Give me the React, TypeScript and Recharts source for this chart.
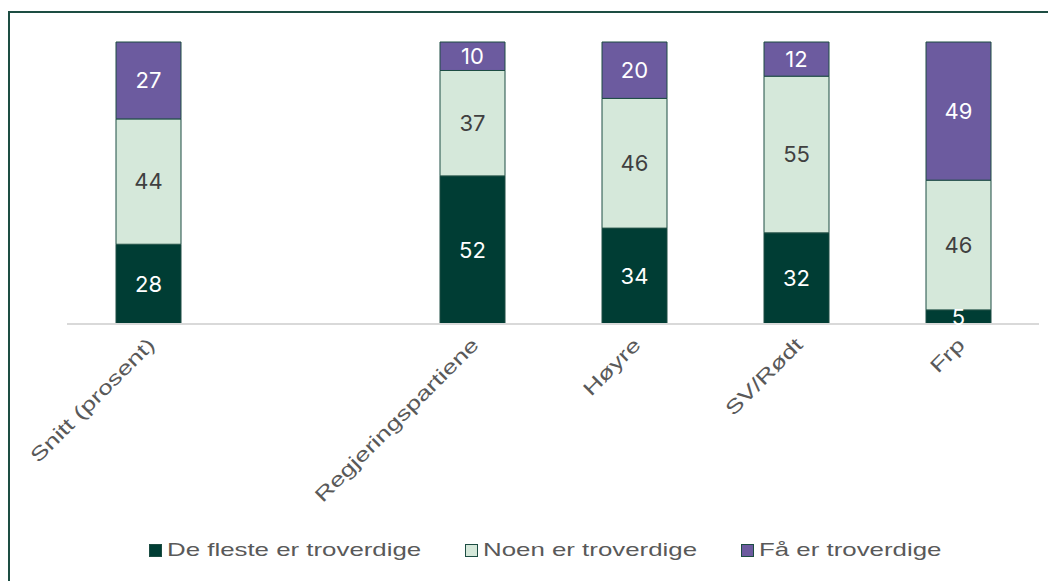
import React from "react";
import { BarChart, Bar, XAxis, YAxis, Legend, LabelList } from "recharts";

// kategorier (en tom plass mellom snitt og partiene)
const kategorier = ["Snitt (prosent)", "", "Regjeringspartiene", "Høyre", "SV/Rødt", "Frp"];
const deFleste = [28, null, 52, 34, 32, 5];
const noen = [44, null, 37, 46, 55, 46];
const faa = [27, null, 10, 20, 12, 49];
const serieNavn = ["De fleste er troverdige", "Noen er troverdige", "Få er troverdige"];

const data = kategorier.map((navn, i) => ({
  navn,
  deFleste: deFleste[i],
  noen: noen[i],
  faa: faa[i],
}));

const MORK = "#003d34";
const LYS = "#d5e8da";
const LILLA = "#6c5b9f";
const KANT = "#1d4d43";
const farger = [MORK, LYS, LILLA];

const FONT = "'Liberation Sans', Arial, sans-serif";
const STREKK = 1.36; // teksten i originalen er strukket i bredden

let ctx: CanvasRenderingContext2D | null = null;
const maalTekst = (tekst: string, px: number) => {
  if (!ctx) ctx = document.createElement("canvas").getContext("2d");
  if (!ctx) return tekst.length * px * 0.5;
  ctx.font = `${px}px 'Liberation Sans'`;
  return ctx.measureText(tekst).width;
};

const Tick = (props: any) => {
  const { x, y, payload } = props;
  return (
    <text
      transform={`translate(${x + 8}, ${y + 14}) rotate(-45) scale(${STREKK}, 1)`}
      textAnchor="end"
      fill="#595959"
      fontSize={19.5}
      fontFamily={FONT}
    >
      {payload.value}
    </text>
  );
};

const Forklaring = () => (
  <div style={{ display: "flex", justifyContent: "center", alignItems: "center", fontFamily: FONT, fontSize: 19, color: "#595959", paddingRight: 16 }}>
    {serieNavn.map((navn, i) => (
      <div key={navn} style={{ display: "flex", alignItems: "center", marginRight: i < 2 ? 44 : 0 }}>
        <span style={{ width: 11, height: 11, background: farger[i], border: `1.5px solid ${KANT}`, marginRight: 5 }} />
        <span style={{ display: "inline-block", width: maalTekst(navn, 19) * STREKK, whiteSpace: "nowrap" }}>
          <span style={{ display: "inline-block", transform: `scaleX(${STREKK})`, transformOrigin: "left center" }}>{navn}</span>
        </span>
      </div>
    ))}
  </div>
);

const App: React.FC = () => {
  return (
    <div
      style={{
        width: 1042,
        height: 600,
        border: `2px solid ${KANT}`,
        borderBottom: "none",
        marginTop: 3,
        position: "relative",
      }}
    >
      <BarChart
        width={1040}
        height={590}
        data={data}
        margin={{ top: 29, right: 11, left: 57, bottom: 42 }}
        barSize={65}
        stackOffset="expand"
      >
        <XAxis
          dataKey="navn"
          tick={<Tick />}
          tickLine={false}
          axisLine={{ stroke: "#d9d9d9", strokeWidth: 2 }}
          height={215}
          interval={0}
        />
        <YAxis hide domain={[0, 1]} />
        <Legend verticalAlign="bottom" content={<Forklaring />} />
        <Bar dataKey="deFleste" name={serieNavn[0]} stackId="a" fill={MORK} stroke={KANT} strokeWidth={1} isAnimationActive={false}>
          <LabelList dataKey="deFleste" position="center" fill="#ffffff" fontSize={22} fontFamily="Inter, sans-serif" />
        </Bar>
        <Bar dataKey="noen" name={serieNavn[1]} stackId="a" fill={LYS} stroke={KANT} strokeWidth={1} isAnimationActive={false}>
          <LabelList dataKey="noen" position="center" fill="#404040" fontSize={22} fontFamily="Inter, sans-serif" />
        </Bar>
        <Bar dataKey="faa" name={serieNavn[2]} stackId="a" fill={LILLA} stroke={KANT} strokeWidth={1} isAnimationActive={false}>
          <LabelList dataKey="faa" position="center" fill="#ffffff" fontSize={22} fontFamily="Inter, sans-serif" />
        </Bar>
      </BarChart>
    </div>
  );
};

export default App;
